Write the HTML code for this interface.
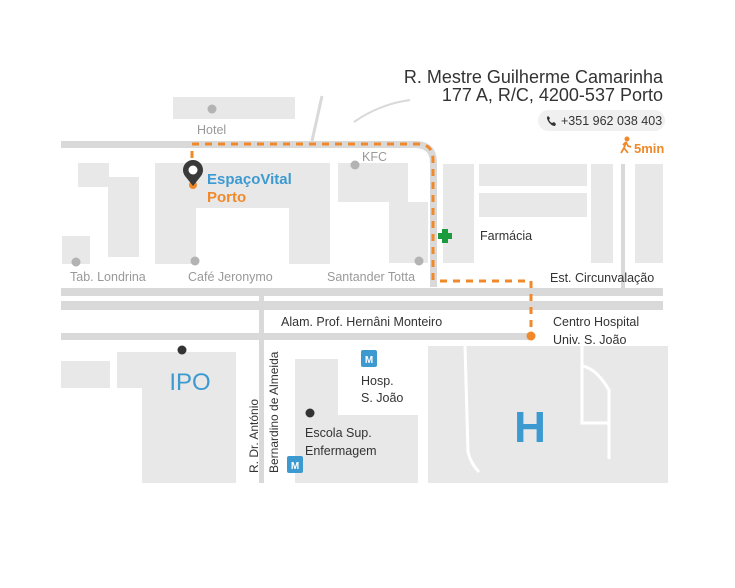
<!DOCTYPE html>
<html><head><meta charset="utf-8"><style>
html,body{margin:0;padding:0;background:#fff;}
svg{display:block;font-family:"Liberation Sans",sans-serif;}
</style></head><body>
<svg width="735" height="588" viewBox="0 0 735 588" xmlns="http://www.w3.org/2000/svg">
<g fill="#e8e8e8">
<rect x="173" y="97" width="122" height="22"/>
<polygon points="78,163 109,163 109,177 139,177 139,257 108,257 108,187 78,187"/>
<rect x="62" y="236" width="28" height="28"/>
<polygon points="155,163 330,163 330,264 289,264 289,208 196,208 196,264 155,264"/>
<polygon points="338,163 408,163 408,202 428,202 428,263 389,263 389,202 338,202"/>
<rect x="443" y="164" width="31" height="99"/>
<rect x="479" y="164" width="108" height="22"/>
<rect x="479" y="193" width="108" height="24"/>
<rect x="591" y="164" width="22" height="99"/>
<rect x="635" y="164" width="28" height="99"/>
<rect x="61" y="361" width="49" height="27"/>
<polygon points="117,352 236,352 236,483 142,483 142,388 117,388"/>
<polygon points="295,359 338,359 338,415 418,415 418,483 295,483"/>
<rect x="428" y="346" width="240" height="137"/>
</g>
<g stroke="#fff" stroke-width="3" fill="none">
<path d="M465,346 L468,452 Q471,464 479,472"/>
<path d="M582,346 L582,423 L608,423"/>
<path d="M582,366 Q596,368 609,390 L609,459"/>
</g>
<g fill="#d9d9d9">
<path d="M61,141 L415,141 Q437,141 437,163 L437,287 L430,287 L430,163 Q430,148 415,148 L61,148 Z"/>
<rect x="61" y="288" width="602" height="8"/>
<rect x="61" y="301" width="602" height="9"/>
<rect x="61" y="333" width="470" height="7"/>
<rect x="259" y="296" width="5" height="187"/>
<rect x="621" y="164" width="4" height="124"/>
</g>
<path d="M322,96 L312,141" stroke="#d9d9d9" stroke-width="3"/>
<path d="M354,122 Q380,104 410,100" stroke="#d9d9d9" stroke-width="2" fill="none"/>
<g stroke="#f0892a" stroke-width="3" fill="none" stroke-dasharray="7,6">
<path d="M192,158 L192,146"/>
<path d="M192,144 L418,144 Q433,144 433,160 L433,281"/>
<path d="M440,281 L531,281 L531,333"/>
</g>
<g fill="#b3b3b3">
<circle cx="212" cy="109" r="4.5"/>
<circle cx="355" cy="165" r="4.5"/>
<circle cx="76" cy="262" r="4.5"/>
<circle cx="195" cy="261" r="4.5"/>
<circle cx="419" cy="261" r="4.5"/>
</g>
<g fill="#333">
<circle cx="182" cy="350" r="4.5"/>
<circle cx="310" cy="413" r="4.5"/>
</g>
<circle cx="531" cy="336" r="4.5" fill="#f0892a"/>
<circle cx="193" cy="185" r="4" fill="#f0892a"/>
<path d="M193,186 L185,176 A10,10 0 1 1 201,176 Z" fill="#3a3a3a"/>
<circle cx="193" cy="170" r="4.5" fill="#fff"/>
<path d="M442,229 h6 v4 h4 v6 h-4 v4 h-6 v-4 h-4 v-6 h4 z" fill="#1a9c3e"/>
<g fill="#999" font-size="12.5">
<text x="197" y="134">Hotel</text>
<text x="362" y="161">KFC</text>
<text x="70" y="281">Tab. Londrina</text>
<text x="188" y="281">Café Jeronymo</text>
<text x="327" y="281">Santander Totta</text>
</g>
<text x="207" y="184" font-size="15" font-weight="bold" fill="#3d9ad1">EspaçoVital</text>
<text x="207" y="202" font-size="15" font-weight="bold" fill="#f0892a">Porto</text>
<g fill="#333" font-size="18" text-anchor="end">
<text x="663" y="83">R. Mestre Guilherme Camarinha</text>
<text x="663" y="101">177 A, R/C, 4200-537 Porto</text>
</g>
<rect x="538" y="110" width="127" height="21" rx="10.5" fill="#f0f0f0"/>
<path d="M548,116 q-2,1 0,5 q3,5 7,5 l1,-2 l-2,-2 l-2,1 q-2,-1 -3,-3 l1,-2 l-2,-2 z" fill="#333"/>
<text x="561" y="125" font-size="12.5" fill="#333">+351 962 038 403</text>
<g stroke="#f0892a" stroke-width="1.8" fill="none">
<circle cx="627" cy="139" r="1.6" fill="#f0892a"/>
<path d="M626,142 L624,148 L621,153 M624,148 L628,153 M626,142 L628,146 L631,147 M626,142 L623,145"/>
</g>
<text x="634" y="153" font-size="13" font-weight="bold" fill="#f0892a">5min</text>
<g fill="#333" font-size="12.5">
<text x="480" y="240">Farmácia</text>
<text x="550" y="282">Est. Circunvalação</text>
<text x="281" y="326">Alam. Prof. Hernâni Monteiro</text>
<text x="553" y="326">Centro Hospital</text>
<text x="553" y="344">Univ. S. João</text>
<text x="361" y="385">Hosp.</text>
<text x="361" y="402">S. João</text>
<text x="305" y="437">Escola Sup.</text>
<text x="305" y="455">Enfermagem</text>
</g>
<g fill="#333" font-size="12">
<text transform="translate(258,473) rotate(-90)">R. Dr. António</text>
<text transform="translate(278,473) rotate(-90)">Bernardino de Almeida</text>
</g>
<rect x="361" y="350" width="16" height="17" rx="2" fill="#3d9ad1"/>
<text x="369" y="363" font-size="10" font-weight="bold" fill="#fff" text-anchor="middle">M</text>
<rect x="287" y="456" width="16" height="17" rx="2" fill="#3d9ad1"/>
<text x="295" y="469" font-size="10" font-weight="bold" fill="#fff" text-anchor="middle">M</text>
<text x="190" y="390" font-size="24" fill="#3d9ad1" text-anchor="middle">IPO</text>
<text x="530" y="442" font-size="44" font-weight="bold" fill="#3d9ad1" text-anchor="middle">H</text>
</svg>
</body></html>
